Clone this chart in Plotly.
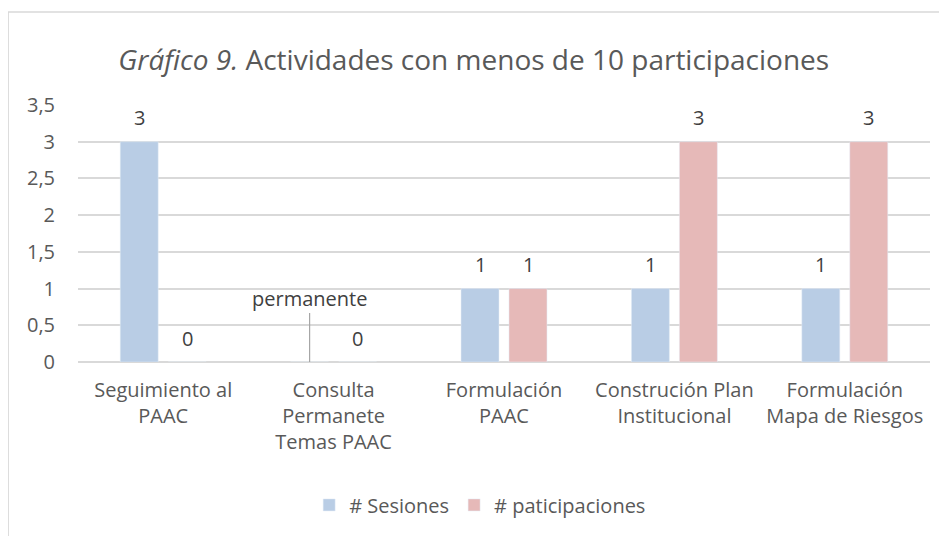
import plotly.graph_objects as go

# data
categorias = ["Seguimiento al<br>PAAC", "Consulta<br>Permanete<br>Temas PAAC", "Formulación<br>PAAC",
              "Construción Plan<br>Institucional", "Formulación<br>Mapa de Riesgos"]
sesiones = [3, 0, 1, 1, 1]
sesiones_txt = ["3", "permanente", "1", "1", "1"]
participaciones = [0, 0, 1, 3, 3]

azul = "#B9CDE5"
rosa = "#E6B9B8"
gris_txt = "#595959"
fuente = "Open Sans"
tam = 20

fig = go.Figure()
fig.add_trace(go.Bar(x=categorias, y=sesiones, name="# Sesiones", marker_color=azul))
fig.add_trace(go.Bar(x=categorias, y=participaciones, name="# paticipaciones", marker_color=rosa))

# etiquetas de datos
for cat, v, t in zip(categorias, sesiones, sesiones_txt):
    if t == "permanente":
        # etiqueta con linea guia
        fig.add_annotation(x=cat, y=v, xshift=-24, text=t, showarrow=True, arrowhead=0,
                           arrowwidth=1.2, arrowcolor="#A6A6A6", ax=0, ay=-64,
                           font=dict(size=tam, color="#404040"))
    else:
        fig.add_annotation(x=cat, y=v, xshift=-24, yshift=24, text=t, showarrow=False,
                           font=dict(size=tam, color="#404040"))
for cat, v in zip(categorias, participaciones):
    fig.add_annotation(x=cat, y=v, xshift=24, yshift=24, text=str(v), showarrow=False,
                       font=dict(size=tam, color="#404040"))

# marco del grafico
fig.add_shape(type="rect", xref="paper", yref="paper", x0=-0.082, x1=1.2, y0=-0.8, y1=1.362,
              line=dict(color="#D9D9D9", width=1.5), fillcolor="rgba(0,0,0,0)", layer="below")

fig.update_layout(
    width=939, height=528,
    margin=dict(l=70, r=17, t=97, b=174),
    paper_bgcolor="white", plot_bgcolor="white",
    font=dict(family=fuente, color=gris_txt, size=tam),
    separators=",.",
    barmode="group", bargap=0.437, bargroupgap=0.208,
    title=dict(text="<i>Gráfico 9.</i> Actividades con menos de 10 participaciones",
               x=0.496, xanchor="center", y=0.902, yanchor="middle", yref="container",
               font=dict(size=28, color=gris_txt, family=fuente)),
    legend=dict(orientation="h", x=0.472, xanchor="center", y=-0.556, yanchor="middle",
                font=dict(size=tam, color=gris_txt), itemclick=False),
    showlegend=True,
)
fig.update_yaxes(range=[0, 3.5], dtick=0.5, gridcolor="#D9D9D9", gridwidth=1.5,
                 zeroline=True, zerolinecolor="#D9D9D9", zerolinewidth=1.5,
                 tickfont=dict(size=tam), ticklabelstandoff=22, showline=False)
fig.update_xaxes(showgrid=False, showline=False, tickfont=dict(size=tam),
                 ticks="outside", ticklen=10, tickcolor="rgba(0,0,0,0)")

fig.write_html("out.html")
